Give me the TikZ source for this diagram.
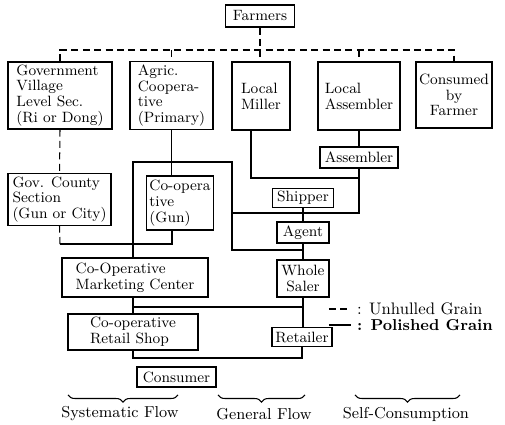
\documentclass[tikz,border=0pt]{standalone}
\usepackage{tikz}
\usetikzlibrary{calc}
\usetikzlibrary{positioning}
\usetikzlibrary{decorations.pathreplacing}

\begin{document}
\begin{tikzpicture}[x=0.02cm, y=-0.02cm]

    \tikzstyle{blk} = [rectangle, draw=black, line width=0.6pt, inner sep=1.5pt, align=center, font=\fontsize{8.5}{9}\selectfont]
    \tikzstyle{lblk} = [blk, align=left]
    \tikzstyle{lab} = [rectangle, inner sep=1pt, font=\fontsize{9}{10}\selectfont]
    \tikzstyle{uline} = [line width=0.6pt, dash pattern=on 4pt off 2.5pt]
    \tikzstyle{pline} = [line width=0.6pt]
    \tikzstyle{brc} = [decorate, decoration={brace, mirror, amplitude=4pt}, line width=0.6pt]

    \useasboundingbox (0,0) rectangle (505,425);

    % Top of the chart %%%%%%%%%%%%%%%%%%%%%%%%%%%%%%%%%%%%%%%%%%%%%%%%%%%%%%%%%%%%%%%%%%
    \node[blk, minimum width=1.38cm, minimum height=0.44cm] (farmers) at (260,16) {Farmers};

    \node[lblk, minimum width=2.08cm, minimum height=1.34cm] (govvil)   at (60,95.5)  {Government\\Village\\Level Sec.\\(Ri or Dong)};
    \node[lblk, minimum width=1.66cm, minimum height=1.34cm] (agric)    at (171.5,95.5) {Agric.\\Coopera-\\tive\\(Primary)};
    \node[lblk, minimum width=1.16cm, minimum height=1.36cm] (miller)   at (261,96)   {Local\\Miller};
    \node[lblk, minimum width=1.64cm, minimum height=1.36cm] (lassem)   at (359,96)   {Local\\Assembler};
    \node[blk,  minimum width=1.52cm, minimum height=1.32cm] (consumed) at (454,95)   {Consumed\\by\\Farmer};

    % Middle and lower boxes %%%%%%%%%%%%%%%%%%%%%%%%%%%%%%%%%%%%%%%%%%%%%%%%%%%%%%%%%%%%
    \node[lblk, minimum width=2.06cm, minimum height=0.9cm]  (govcty)    at (59.5,199.5) {Gov. County\\Section\\(Gun or City)};
    \node[lblk, minimum width=1.28cm, minimum height=1.08cm] (coopgun)   at (180,203)    {Co-opera\\tive\\(Gun)};
    \node[blk,  minimum width=1.56cm, minimum height=0.42cm] (assembler) at (359,157.5)  {Assembler};
    \node[blk,  minimum width=1.22cm, minimum height=0.36cm] (shipper)   at (303,198)    {Shipper};
    \node[blk,  minimum width=1.04cm, minimum height=0.42cm] (agent)     at (303,232.5)  {Agent};
    \node[blk,  minimum width=1.04cm, minimum height=0.74cm] (whole)     at (303,278.5)  {Whole\\Saler};
    \node[lblk, minimum width=2.92cm, minimum height=0.78cm] (market)    at (135,277.5)  {Co-Operative\\Marketing Center};
    \node[lblk, minimum width=2.6cm,  minimum height=0.72cm] (shop)      at (133,332)    {Co-operative\\Retail Shop};
    \node[blk,  minimum width=1.2cm,  minimum height=0.38cm] (retailer)  at (302,337)    {Retailer};
    \node[blk,  minimum width=1.58cm, minimum height=0.4cm]  (consumer)  at (176.5,377)  {Consumer};

    % Junction points %%%%%%%%%%%%%%%%%%%%%%%%%%%%%%%%%%%%%%%%%%%%%%%%%%%%%%%%%%%%%%%%%%%%
    \coordinate (bus)  at (0,50);
    \coordinate (millr) at (251,178);
    \coordinate (asmj) at (359,213);
    \coordinate (splt) at (232,213);
    \coordinate (gen)  at (232,162);
    \coordinate (sysx) at (133,162);
    \coordinate (agj)  at (303,250);
    \coordinate (govj) at (60,244);
    \coordinate (gunx) at (172,244);
    \coordinate (whj)  at (303,307);
    \coordinate (rtj)  at (302,358);

    % Unhulled grain from the farmers %%%%%%%%%%%%%%%%%%%%%%%%%%%%%%%%%%%%%%%%%%%%%%%%%%%%
    \draw [uline] (farmers.south) -- (farmers |- miller.north);
    \draw [uline] (govvil.north) -- (govvil |- bus) -- (consumed |- bus) -- (consumed.north);
    \draw [uline] (agric |- bus) -- (agric.north);
    \draw [uline] (lassem |- bus) -- (lassem.north);
    \draw [uline] (govvil.south) -- (govcty.north);
    \draw [uline] (govcty.south) -- (govj);

    % Polished grain %%%%%%%%%%%%%%%%%%%%%%%%%%%%%%%%%%%%%%%%%%%%%%%%%%%%%%%%%%%%%%%%%%%%%
    \draw [pline] (agric.south) -- (agric.south |- coopgun.north);
    \draw [pline] (coopgun.south -| gunx) -- (gunx) -- (govj);
    \draw [pline] (lassem.south) -- (assembler.north);
    \draw [pline] (miller.south -| millr) -- (millr) -- (millr -| assembler);
    \draw [pline] (assembler.south) -- (asmj) -- (splt) -- (splt |- agj) -- (agj);
    \draw [pline] (splt) -- (gen) -- (sysx) -- (sysx |- market.north);
    \draw [pline] (shipper.south) -- (agent.north);
    \draw [pline] (agent.south) -- (whole.north);
    \draw [pline] (whole.south) -- (whole.south |- retailer.north);
    \draw [pline] (market.south -| sysx) -- (shop.north -| sysx);
    \draw [pline] (sysx |- whj) -- (whj);
    \draw [pline] (shop.south -| sysx) -- (sysx |- rtj) -- (rtj) -- (retailer.south);

    % Legend %%%%%%%%%%%%%%%%%%%%%%%%%%%%%%%%%%%%%%%%%%%%%%%%%%%%%%%%%%%%%%%%%%%%%%%%%%%%%
    \coordinate (lgu) at (329,309);
    \coordinate (lgp) at (329,325);
    \node [lab, anchor=west, font=\fontsize{9.5}{11}\selectfont] (lgut) at (355,309) {: Unhulled Grain};
    \node [lab, anchor=west, font=\fontsize{9}{11}\selectfont\bfseries] (lgpt) at (355,325) {: Polished Grain};
    \draw [uline] (lgu) -- ([xshift=-2pt]lgut.west);
    \draw [pline] (lgp) -- ([xshift=-2pt]lgpt.west);

    % Braces and flow names %%%%%%%%%%%%%%%%%%%%%%%%%%%%%%%%%%%%%%%%%%%%%%%%%%%%%%%%%%%%%%
    \coordinate (bsa) at (68,395);  \coordinate (bsb) at (178,395);
    \coordinate (bga) at (218,395); \coordinate (bgb) at (305,395);
    \coordinate (bca) at (355,395); \coordinate (bcb) at (460,395);
    \draw [brc] (bsa) -- (bsb);
    \draw [brc] (bga) -- (bgb);
    \draw [brc] (bca) -- (bcb);
    \node [lab] (sysl) at (120,414) {Systematic Flow};
    \node [lab] (genl) at (264,414) {General Flow};
    \node [lab] (conl) at (406,414) {Self-Consumption};

\end{tikzpicture}
\end{document}
